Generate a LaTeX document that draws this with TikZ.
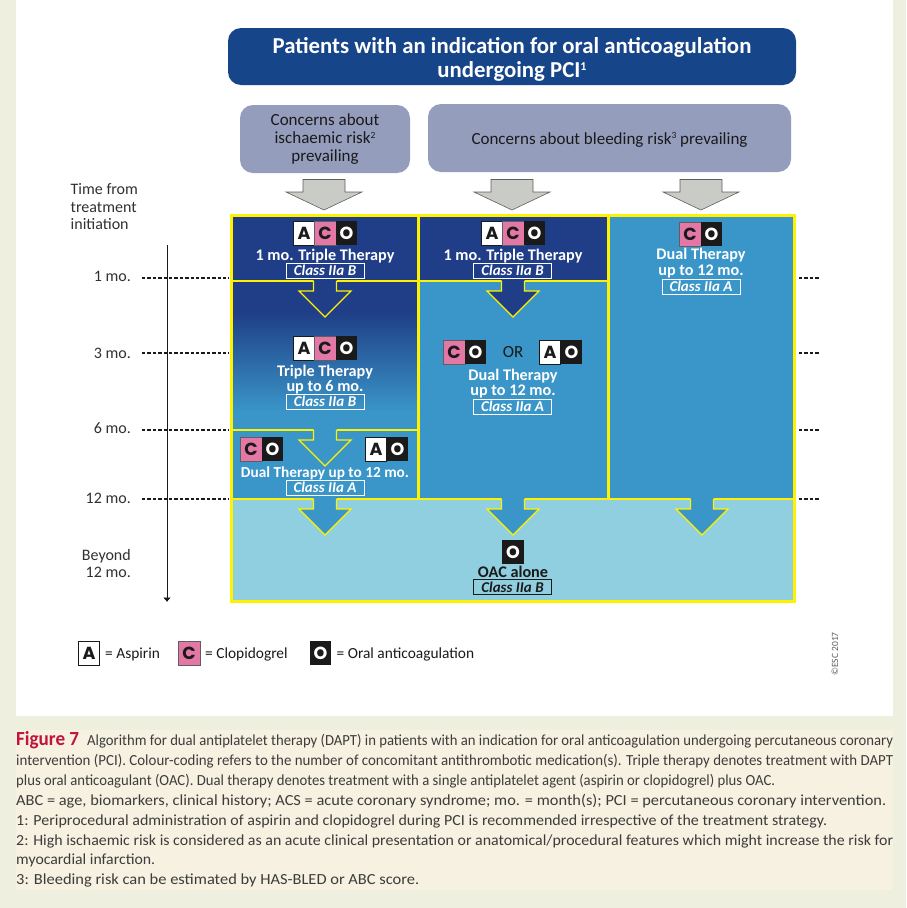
\documentclass[tikz,border=0pt]{standalone}
\usepackage{fontspec}
\usepackage{graphicx}
\setmainfont{Carlito}
\newfontfamily\badgefont{Poppins}
\usetikzlibrary{arrows.meta}
\definecolor{pagebg}{HTML}{EFEFE0}
\definecolor{capbg}{HTML}{F6F1E0}
\definecolor{dkblue}{HTML}{1F3E87}
\definecolor{mdblue}{HTML}{3A96C8}
\definecolor{ltblue}{HTML}{90CFDF}
\definecolor{titleblue}{HTML}{17458A}
\definecolor{concern}{HTML}{959DBD}
\definecolor{grayarrow}{HTML}{C9CBC6}
\definecolor{yel}{HTML}{FFF200}
\definecolor{pinkc}{HTML}{E377A6}
\definecolor{ink}{HTML}{1A1A1A}
\definecolor{crim}{HTML}{C0143C}
\newcommand\supt[2][9.5]{\raisebox{.32em}[0pt][0pt]{\fontsize{#1}{#1}\selectfont #2}}
\newcommand\fitline[2]{\resizebox{#1pt}{\height}{#2}}
\tikzset{
  cell/.style={inner sep=0pt,outer sep=0pt,minimum width=21.5pt,minimum height=24pt,font=\badgefont\bfseries\fontsize{17.5}{17.5}\selectfont,text height=12pt,text depth=0pt},
  badgeA/.style={cell,fill=white,draw=ink,line width=.6pt,text=ink},
  badgeC/.style={cell,fill=pinkc,draw=ink!70,line width=.3pt,text=ink},
  badgeO/.style={cell,fill=ink,text=white},
  lbl/.style={inner sep=0pt,font=\bfseries\fontsize{16.2}{16.2}\selectfont,text=white,text height=12pt,text depth=2pt},
  classbox/.style={draw=white,line width=.8pt,inner sep=0pt,minimum width=78pt,minimum height=15pt,font=\bfseries\itshape\fontsize{15}{15}\selectfont,text=white,text height=10.5pt,text depth=0pt},
  time/.style={inner sep=0pt,anchor=east,font=\fontsize{16}{16}\selectfont,text=ink!90,text height=12pt,text depth=2pt},
  tick/.style={line width=1.1pt,ink,dash pattern=on 3.4pt off 2pt},
  capline/.style={inner sep=0pt,anchor=west,font=\fontsize{15.4}{15.4}\selectfont,text=ink!85,text height=11.5pt,text depth=2.5pt},
  legend/.style={inner sep=0pt,anchor=west,font=\fontsize{15.4}{15.4}\selectfont,text=ink,text height=12pt,text depth=2pt},
  concernbox/.style={fill=concern,rounded corners=13pt,inner sep=0pt,font=\fontsize{17}{18}\selectfont,text=ink}
}
\newcommand\blockarrow[4]{%
  \fill[#3] (#1-11.5,#2-1.5) -- (#1-11.5,#2+10) -- (#1-26,#2+10) -- (#1,#2+36) -- (#1+26,#2+10) -- (#1+11.5,#2+10) -- (#1+11.5,#2-1.5) -- cycle;
  \draw[#4,line width=1.2pt,line join=miter] (#1-11.5,#2) -- (#1-11.5,#2+10) -- (#1-26,#2+10) -- (#1,#2+36) -- (#1+26,#2+10) -- (#1+11.5,#2+10) -- (#1+11.5,#2);
}
\newcommand\grayarrow[1]{%
  \draw[fill=grayarrow,draw=ink!70,line width=.6pt] (#1-21,179.5) -- (#1-21,192) -- (#1-38,192) -- (#1,210) -- (#1+38,192) -- (#1+21,192) -- (#1+21,179.5) -- cycle;
}
\begin{document}
\begin{tikzpicture}[x=1pt,y=-1pt]
\useasboundingbox (0,0) rectangle (906,908);
\fill[pagebg] (0,0) rectangle (906,908);
\fill[white] (16,0) rectangle (893,716);
\fill[capbg] (16,730) rectangle (893,890);

% header
\node[fill=titleblue,rounded corners=13pt,minimum width=568pt,minimum height=57pt,inner sep=0pt,
  font=\bfseries\fontsize{22.8}{24}\selectfont,text=white] (title) at (512,56.5)
  {\raisebox{-8pt}[25pt][25pt]{\parbox{540pt}{\centering Patients with an indication for oral anticoagulation\\undergoing PCI\supt[12]{1}}}};
\node[concernbox,minimum width=170pt,minimum height=68pt,align=center] (ischaemic) at (325,139)
  {Concerns about\\ischaemic risk\supt{2}\\prevailing};
\node[concernbox,minimum width=363pt,minimum height=68pt,text height=13.5pt,text depth=1.5pt] (bleeding) at (609.5,138)
  {Concerns about bleeding risk\supt{3} prevailing};
\grayarrow{324}\grayarrow{512}\grayarrow{701}

% background fields
\fill[dkblue] (231,215) rectangle (418,281);
\fill[dkblue] (231,281) rectangle (418,312);
\shade[top color=dkblue,bottom color=mdblue] (231,312) rectangle (418,412);
\fill[mdblue] (231,412) rectangle (418,499);
\fill[dkblue] (418,215) rectangle (608,281);
\fill[mdblue] (418,281) rectangle (608,499);
\fill[mdblue] (608,215) rectangle (794,499);
\fill[ltblue] (231,499) rectangle (794,602);
% grid
\draw[yel,line width=1.3pt] (232,281) -- (418,281);
\draw[yel,line width=1.3pt] (418,281) -- (608,281);
\draw[yel,line width=1.3pt] (232,430) -- (418,430);
\draw[yel,line width=1.6pt] (232,499) -- (794,499);
\draw[yel,line width=3pt] (418.5,215) -- (418.5,499);
\draw[yel,line width=3pt] (608.5,215) -- (608.5,499);
\draw[yel,line width=3pt] (231.5,215.5) rectangle (794,601.5);
% block arrows
\blockarrow{325}{281}{dkblue}{yel}
\blockarrow{513}{281}{dkblue}{yel}
\blockarrow{325}{430}{mdblue}{yel}
\blockarrow{325}{499}{mdblue}{yel}
\blockarrow{513}{499}{mdblue}{yel}
\blockarrow{702}{499}{mdblue}{yel}

% column 1
\node[badgeA] (a1) at (304,233) {A};
\node[badgeC] (c1) at (325,233) {C};
\node[badgeO] (o1) at (346.5,233) {O};
\node[lbl] (l1) at (325,255) {1 mo. Triple Therapy};
\node[classbox] (k1) at (325,270.5) {Class IIa B};
\node[badgeA] (a2) at (304,348) {A};
\node[badgeC] (c2) at (325,348) {C};
\node[badgeO] (o2) at (346.5,348) {O};
\node[lbl] (l2) at (325,371) {Triple Therapy};
\node[lbl] (l2b) at (325,386) {up to 6 mo.};
\node[classbox] (k2) at (325,401.5) {Class IIa B};
\node[badgeC] (c3) at (251,449) {C};
\node[badgeO] (o3) at (272.5,449) {O};
\node[badgeA] (a4) at (376,449) {A};
\node[badgeO] (o4) at (397.5,449) {O};
\node[lbl,font=\bfseries\fontsize{15.3}{15.3}\selectfont] (l3) at (325,472) {Dual Therapy up to 12 mo.};
\node[classbox] (k3) at (325,487.5) {Class IIa A};

% column 2
\node[badgeA] (a5) at (492,233) {A};
\node[badgeC] (c5) at (513,233) {C};
\node[badgeO] (o5) at (534.5,233) {O};
\node[lbl] (l5) at (513,255) {1 mo. Triple Therapy};
\node[classbox] (k5) at (512.5,270.5) {Class IIa B};
\node[badgeC] (c6) at (454,352) {C};
\node[badgeO] (o6) at (475.5,352) {O};
\node[inner sep=0pt,font=\fontsize{17}{17}\selectfont,text=ink] (or) at (513,352) {OR};
\node[badgeA] (a7) at (550,352) {A};
\node[badgeO] (o7) at (571.5,352) {O};
\node[lbl] (l6) at (513,375) {Dual Therapy};
\node[lbl] (l6b) at (513,390) {up to 12 mo.};
\node[classbox] (k6) at (512.5,406.5) {Class IIa A};

% column 3
\node[badgeC] (c8) at (690,234) {C};
\node[badgeO] (o8) at (711.5,234) {O};
\node[lbl] (l8) at (701,254) {Dual Therapy};
\node[lbl] (l8b) at (701,270) {up to 12 mo.};
\node[classbox] (k8) at (701,286.5) {Class IIa A};

% beyond 12 months
\node[badgeO] (o9) at (513,552) {O};
\node[lbl,text=ink] (l9) at (513,572) {OAC alone};
\node[classbox,draw=ink,text=ink] (k9) at (512.5,587) {Class IIa B};

% time axis
\node[inner sep=0pt,anchor=north west,align=left,font=\fontsize{16}{17.5}\selectfont,text=ink!90] (timehead) at (70.5,183.5) {Time from\\treatment\\initiation};
\node[time] (t1) at (131,276) {1 mo.};
\node[time] (t3) at (131,353) {3 mo.};
\node[time] (t6) at (131,428) {6 mo.};
\node[time] (t12) at (131,498) {12 mo.};
\node[inner sep=0pt,anchor=east,align=right,font=\fontsize{16}{17.5}\selectfont,text=ink!90] (tb) at (131,563.5) {Beyond\\12 mo.};
\coordinate (axtop) at (167,245);
\coordinate (axbot) at (167,602);
\draw[ink,line width=.8pt,-{Latex[length=4.5pt,width=8pt]}] (axtop) -- (axbot);
\foreach \n/\yy in {a/278,b/353,c/430,d/499}{
  \coordinate (L\n) at (142,\yy);
  \coordinate (M\n) at (229,\yy);
  \coordinate (R\n) at (799,\yy);
  \coordinate (S\n) at (819,\yy);
  \draw[tick] (L\n) -- (M\n);
  \draw[tick] (R\n) -- (S\n);
}

% legend
\node[badgeA] (legA) at (89,653) {A};
\node[legend] (legAt) at (105,653) {= Aspirin};
\node[badgeC] (legC) at (189,653) {C};
\node[legend] (legCt) at (205,653) {= Clopidogrel};
\node[badgeO] (legO) at (320.5,653) {O};
\node[legend] (legOt) at (336.5,653) {= Oral anticoagulation};
\node[rotate=90,inner sep=0pt,font=\fontsize{9.5}{9.5}\selectfont,text=ink!70] (esc) at (835,654) {©ESC 2017};

% caption
\node[capline] (cap1) at (16,741) {\fitline{877}{{\color{crim}\bfseries\fontsize{20}{20}\selectfont Figure 7}\hspace{5pt} Algorithm for dual antiplatelet therapy (DAPT) in patients with an indication for oral anticoagulation undergoing percutaneous coronary}};
\node[capline] (cap2) at (16,761) {\fitline{877}{intervention (PCI). Colour-coding refers to the number of concomitant antithrombotic medication(s). Triple therapy denotes treatment with DAPT}};
\node[capline] (cap3) at (16,781) {\fitline{759}{plus oral anticoagulant (OAC). Dual therapy denotes treatment with a single antiplatelet agent (aspirin or clopidogrel) plus OAC.}};
\node[capline] (cap4) at (16,801) {\fitline{870}{ABC = age, biomarkers, clinical history; ACS = acute coronary syndrome; mo. = month(s); PCI = percutaneous coronary intervention.}};
\node[capline] (cap5) at (16,821) {\fitline{811}{1: Periprocedural administration of aspirin and clopidogrel during PCI is recommended irrespective of the treatment strategy.}};
\node[capline] (cap6) at (16,840.5) {\fitline{877}{2: High ischaemic risk is considered as an acute clinical presentation or anatomical/procedural features which might increase the risk for}};
\node[capline] (cap7) at (16,860) {\fitline{139}{myocardial infarction.}};
\node[capline] (cap8) at (16,880) {\fitline{403}{3: Bleeding risk can be estimated by HAS-BLED or ABC score.}};
\end{tikzpicture}
\end{document}
